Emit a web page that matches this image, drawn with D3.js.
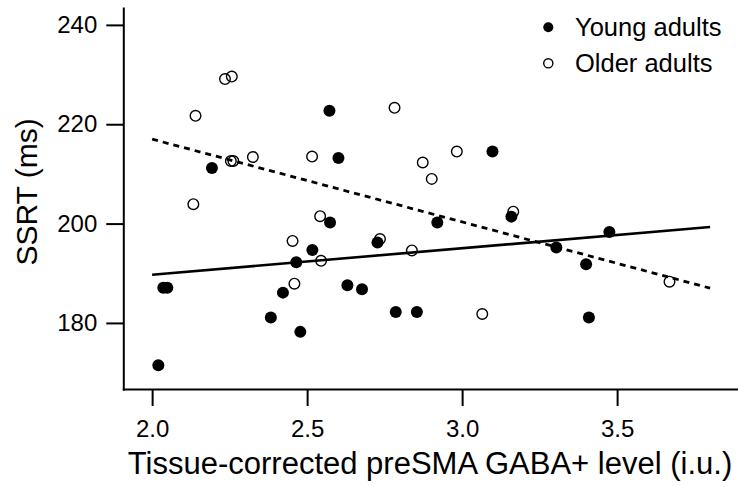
<!DOCTYPE html>
<html>
<head>
<meta charset="utf-8">
<script src="https://cdn.jsdelivr.net/npm/d3@7"></script>
<style>
  html, body { margin: 0; padding: 0; background: #fff; }
  svg { display: block; }
  text { font-family: "Liberation Sans", Arial, Helvetica, sans-serif; fill: #000; }
</style>
</head>
<body>
<svg id="chart" width="738" height="487"></svg>
<script>
// ---- Data ----
const seriesNames = ["Young adults", "Older adults"];

// Young adults: [GABA+ level, SSRT]
const youngX = [2.020, 2.036, 2.049, 2.193, 2.383, 2.422, 2.465, 2.478, 2.517, 2.572, 2.574, 2.601,
                2.630, 2.677, 2.727, 2.786, 2.854, 2.920, 3.098, 3.159, 3.304, 3.400, 3.409, 3.475];
const youngY = [171.5, 187.1, 187.1, 211.2, 181.1, 186.1, 192.2, 178.2, 194.7, 222.7, 200.2, 213.2,
                187.6, 186.8, 196.2, 182.2, 182.2, 200.2, 214.5, 201.4, 195.2, 191.8, 181.1, 198.3];

// Older adults
const olderX = [2.133, 2.140, 2.235, 2.257, 2.254, 2.262, 2.325, 2.453, 2.459, 2.516, 2.542, 2.545,
                2.735, 2.782, 2.838, 2.873, 2.902, 2.983, 3.065, 3.165, 3.669];
const olderY = [203.9, 221.7, 229.1, 229.6, 212.6, 212.6, 213.4, 196.5, 187.9, 213.5, 201.5, 192.5,
                196.9, 223.3, 194.6, 212.3, 209.0, 214.5, 181.8, 202.4, 188.3];

// Regression lines (endpoints)
const youngFitX = [2.0, 3.8];
const youngFitY = [189.7, 199.3];
const olderFitX = [2.0, 3.8];
const olderFitY = [217.0, 187.0];

const xTicks = [2.0, 2.5, 3.0, 3.5];
const yTicks = [180, 200, 220, 240];
const xTitle = "Tissue-corrected preSMA GABA+ level (i.u.)";
const yTitle = "SSRT (ms)";

// ---- Layout ----
const svg = d3.select("#chart");
const mLeft = 123.3, mRight = 738, mTop = 8, mBottom = 389;

const x = d3.scaleLinear().domain([1.907, 3.89]).range([mLeft, mRight]);
const y = d3.scaleLinear().domain([166.7, 243.4]).range([mBottom, mTop]);

// Axes
const xAxis = d3.axisBottom(x).tickValues(xTicks).tickFormat(d3.format(".1f"))
  .tickSize(17).tickSizeOuter(0).tickPadding(14);
const yAxis = d3.axisLeft(y).tickValues(yTicks).tickFormat(d3.format("d"))
  .tickSize(17).tickSizeOuter(0).tickPadding(9);

const gx = svg.append("g").attr("transform", `translate(0,${mBottom})`).call(xAxis);
const gy = svg.append("g").attr("transform", `translate(${mLeft},0)`).call(yAxis);
[gx, gy].forEach(g => {
  g.selectAll("path.domain").attr("stroke", "#000").attr("stroke-width", 2).attr("stroke-linecap", "square");
  g.selectAll(".tick line").attr("stroke", "#000").attr("stroke-width", 2);
  g.selectAll(".tick text").style("font-size", "24px").attr("fill", "#000")
    .style("font-family", '"Liberation Sans", Arial, sans-serif');
});

// Titles
svg.append("text").attr("x", 430).attr("y", 474)
  .attr("text-anchor", "middle").style("font-size", "31px").text(xTitle);
svg.append("text").attr("transform", "translate(37,192) rotate(-90)")
  .attr("text-anchor", "middle").style("font-size", "30px").text(yTitle);

// Points: older (open) first, then young (filled)
const older = olderX.map((v, i) => [v, olderY[i]]);
const young = youngX.map((v, i) => [v, youngY[i]]);

svg.append("g").selectAll("circle").data(older).join("circle")
  .attr("cx", d => x(d[0])).attr("cy", d => y(d[1])).attr("r", 5.3)
  .attr("fill", "none").attr("stroke", "#000").attr("stroke-width", 1.4);

svg.append("g").selectAll("circle").data(young).join("circle")
  .attr("cx", d => x(d[0])).attr("cy", d => y(d[1])).attr("r", 6)
  .attr("fill", "#000");

// Regression lines
const line = d3.line().x(d => x(d[0])).y(d => y(d[1]));
svg.append("path").datum(youngFitX.map((v, i) => [v, youngFitY[i]]))
  .attr("d", line).attr("fill", "none").attr("stroke", "#000").attr("stroke-width", 2.6);
svg.append("path").datum(olderFitX.map((v, i) => [v, olderFitY[i]]))
  .attr("d", line).attr("fill", "none").attr("stroke", "#000").attr("stroke-width", 2.8)
  .attr("stroke-dasharray", "6,5");

// Legend
const legend = svg.append("g");
const legY = [27.3, 63.3];
const legBase = [36.3, 72.2];
legend.append("circle").attr("cx", 548.3).attr("cy", legY[0]).attr("r", 5).attr("fill", "#000");
legend.append("circle").attr("cx", 548.3).attr("cy", legY[1]).attr("r", 4.6)
  .attr("fill", "none").attr("stroke", "#000").attr("stroke-width", 1.4);
seriesNames.forEach((name, i) => {
  legend.append("text").attr("x", 575).attr("y", legBase[i])
    .style("font-size", "25.5px").text(name);
});
</script>
</body>
</html>
